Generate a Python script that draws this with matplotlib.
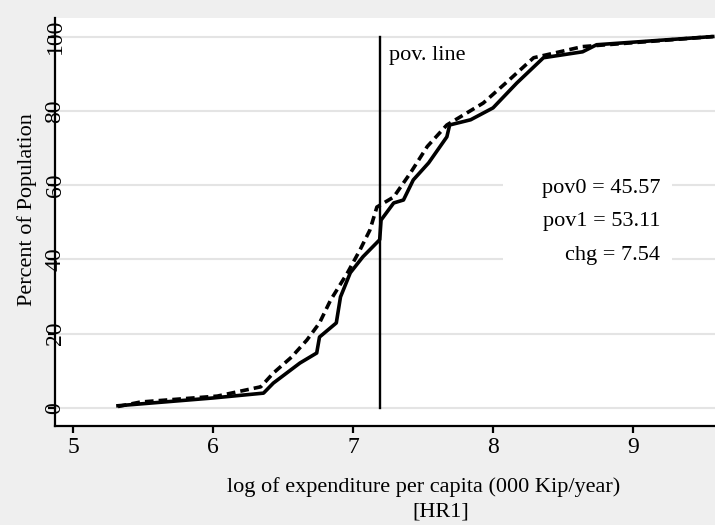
import matplotlib.pyplot as plt
import matplotlib.patches as mpatches

plt.rcParams['font.family'] = ['Liberation Serif', 'DejaVu Serif']

# Curva de distribuicao acumulada - base (pov0)
x_base = [5.32, 6.0, 6.36, 6.43, 6.62, 6.74, 6.76, 6.88, 6.91, 6.98, 7.07, 7.19,
          7.2, 7.29, 7.36, 7.43, 7.54, 7.67, 7.69, 7.84, 8.0, 8.17, 8.36, 8.64,
          8.74, 9.57]
y_base = [0.6, 2.7, 4.0, 6.7, 12.1, 14.8, 19.1, 22.9, 29.9, 36.4, 40.7, 45.3,
          50.6, 55.2, 56.0, 61.4, 66.0, 73.0, 76.2, 77.6, 80.8, 87.5, 94.3, 95.9,
          97.8, 100.0]

# Curva simulada (pov1)
x_sim = [5.32, 5.48, 6.03, 6.34, 6.43, 6.56, 6.67, 6.76, 6.84, 6.96, 7.05, 7.12,
         7.17, 7.29, 7.41, 7.53, 7.67, 7.93, 8.1, 8.29, 8.64, 9.57]
y_sim = [0.4, 1.6, 3.2, 5.7, 9.4, 13.7, 18.3, 22.9, 29.1, 36.4, 42.6, 47.9,
         54.1, 56.8, 63.3, 70.4, 76.2, 82.1, 87.8, 94.3, 97.3, 100.0]

pov_line = 7.19
stats = ['pov0 = 45.57', 'pov1 = 53.11', 'chg = 7.54']
y_ticks = [0, 20, 40, 60, 80, 100]
x_ticks = [5, 6, 7, 8, 9]

fig = plt.figure(figsize=(7.15, 5.25), dpi=100, facecolor='#efefef')
ax = fig.add_axes([55 / 715, 99 / 525, 660 / 715, 408 / 525])
ax.set_facecolor('white')

ax.plot(x_base, y_base, color='black', lw=2.6, solid_joinstyle='round')
ax.plot(x_sim, y_sim, color='black', lw=2.6, linestyle=(0, (2.4, 1.4)))
ax.plot([pov_line, pov_line], [0, 100], color='black', lw=1.7)

ax.set_xlim(4.87, 9.586)
ax.set_ylim(-4.85, 105.0)

ax.set_yticks(y_ticks)
ax.set_yticklabels([str(v) for v in y_ticks], rotation=90, ha='center', va='center')
ax.set_xticks(x_ticks)
ax.set_xticklabels([str(v) for v in x_ticks])
ax.tick_params(axis='y', length=5, width=1.6, pad=-5, labelsize=17)
ax.tick_params(axis='x', length=5, width=1.6, pad=3, labelsize=17)
ax.yaxis.grid(True, color='#e4e4e4', lw=1.5)
ax.set_axisbelow(True)

for s in ['top', 'right']:
    ax.spines[s].set_visible(False)
for s in ['left', 'bottom']:
    ax.spines[s].set_linewidth(1.6)

# caixa branca atras das estatisticas
ax.add_patch(mpatches.Rectangle((0.679, 0.37), 0.256, 0.27, transform=ax.transAxes,
                                facecolor='white', edgecolor='none', zorder=1.5))
for txt, yf in zip(stats, [0.583, 0.502, 0.417]):
    ax.text(0.917, yf, txt, transform=ax.transAxes, ha='right', va='center',
            fontsize=16, zorder=3)

ax.text(0.506, 0.907, 'pov. line', transform=ax.transAxes, ha='left', va='center',
        fontsize=16)

fig.text(27 / 715, 1 - 210 / 525, 'Percent of Population', rotation=90,
         ha='center', va='center', fontsize=16)
fig.text(423.5 / 715, 1 - 487 / 525, 'log of expenditure per capita (000 Kip/year)',
         ha='center', va='center', fontsize=16)
fig.text(441 / 715, 1 - 512 / 525, '[HR1]', ha='center', va='center', fontsize=16)

fig.savefig('out.png', dpi=100, facecolor=fig.get_facecolor())
